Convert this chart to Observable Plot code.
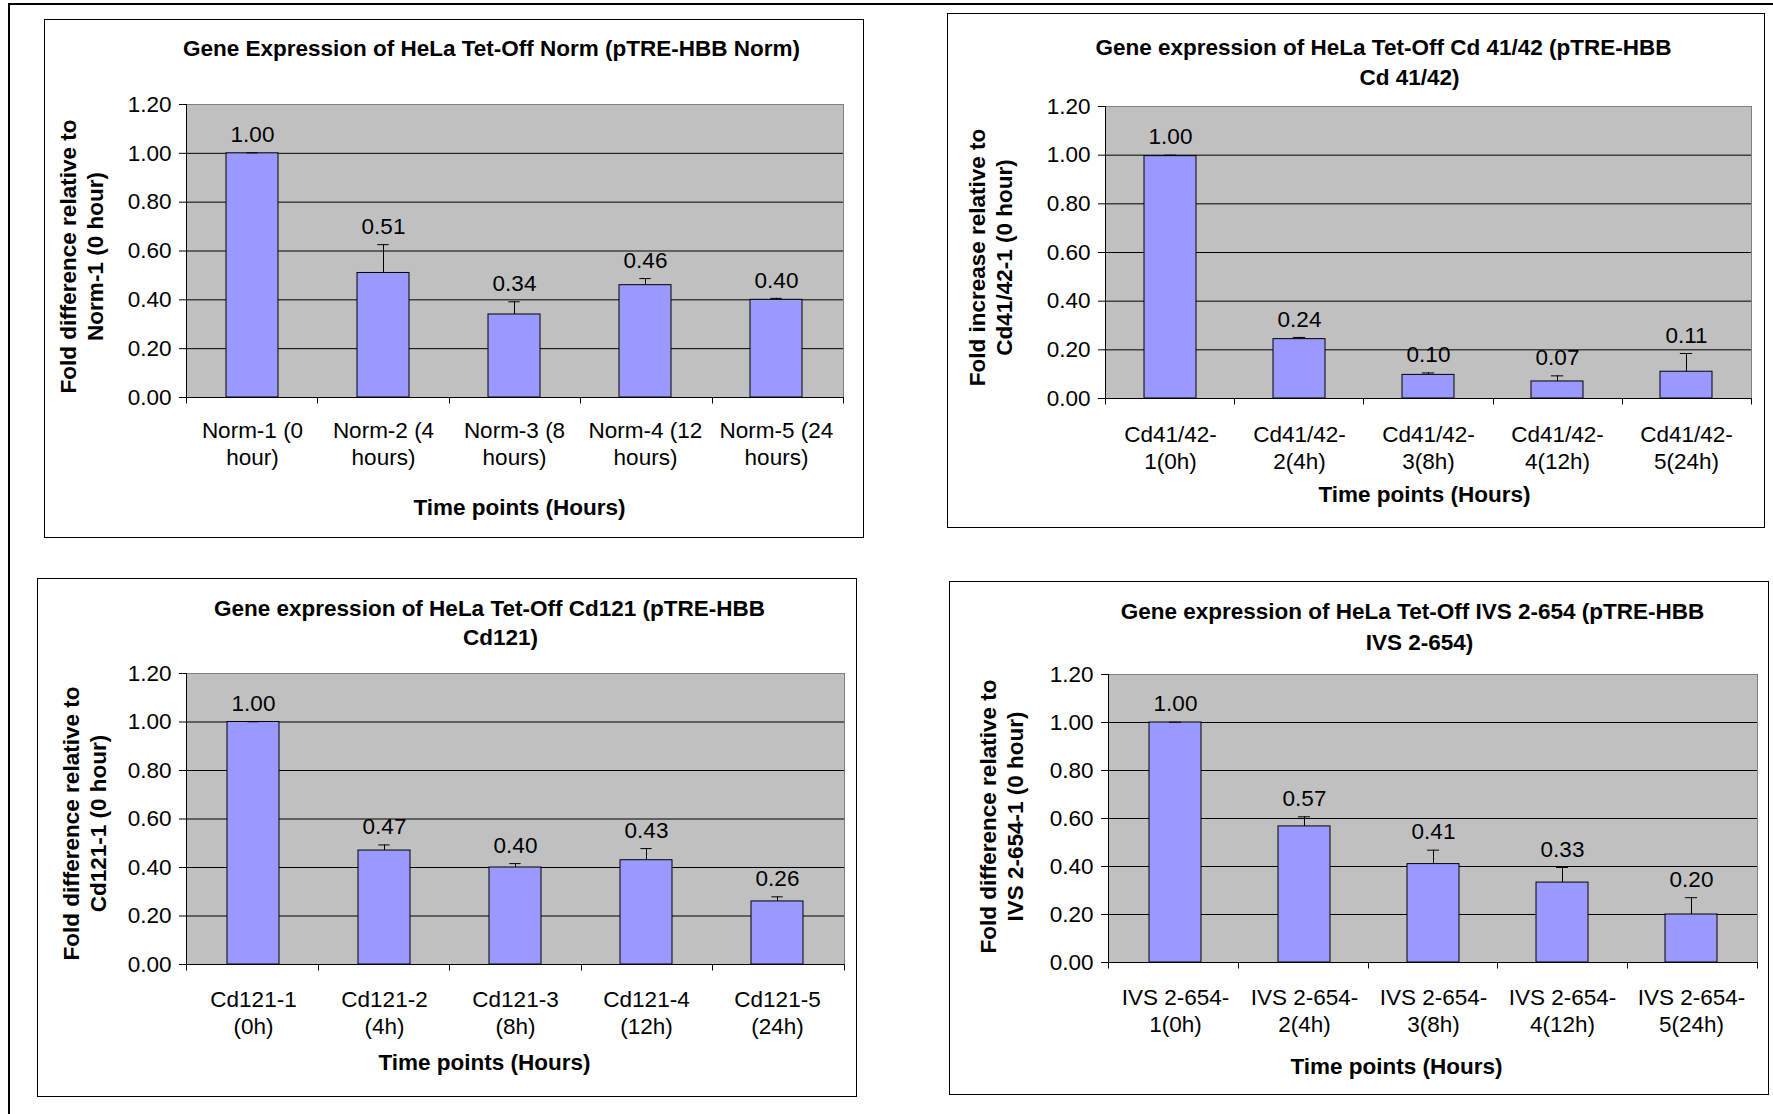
<!DOCTYPE html>
<html><head><meta charset="utf-8">
<script src="https://cdn.jsdelivr.net/npm/d3@7"></script>
<script src="https://cdn.jsdelivr.net/npm/@observablehq/plot@0.6"></script>
<style>
html,body{margin:0;padding:0;background:#fff;}
#page{position:relative;width:1773px;height:1114px;overflow:hidden;background:#fff;font-family:'Liberation Sans',Arial,sans-serif;}
.panel-svg{position:absolute;}
.box{position:absolute;border:1.5px solid #000;box-sizing:border-box;pointer-events:none;}
.rule{position:absolute;background:#000;}
</style></head><body><div id="page"></div>
<script>
// ---------- DATA ----------
const yTicks = [0, 0.2, 0.4, 0.6, 0.8, 1.0, 1.2];
const gridTicks = [0.2, 0.4, 0.6, 0.8, 1.0];
const xTitleText = "Time points (Hours)";

const normTitle = ["Gene Expression of HeLa Tet-Off Norm (pTRE-HBB Norm)"];
const normYTitle = "Fold difference relative to\nNorm-1 (0 hour)";
const normCats = ["Norm-1", "Norm-2", "Norm-3", "Norm-4", "Norm-5"];
const normLabels = ["Norm-1 (0\nhour)", "Norm-2 (4\nhours)", "Norm-3 (8\nhours)", "Norm-4 (12\nhours)", "Norm-5 (24\nhours)"];
const normValues = [1.00, 0.51, 0.34, 0.46, 0.40];
const normErrors = [0.002, 0.116, 0.052, 0.027, 0.006];

const cd4142Title = ["Gene expression of HeLa Tet-Off Cd 41/42 (pTRE-HBB", "Cd 41/42)"];
const cd4142YTitle = "Fold increase relative to\nCd41/42-1 (0 hour)";
const cd4142Cats = ["Cd41/42-1", "Cd41/42-2", "Cd41/42-3", "Cd41/42-4", "Cd41/42-5"];
const cd4142Labels = ["Cd41/42-\n1(0h)", "Cd41/42-\n2(4h)", "Cd41/42-\n3(8h)", "Cd41/42-\n4(12h)", "Cd41/42-\n5(24h)"];
const cd4142Values = [0.996, 0.244, 0.097, 0.070, 0.110];
const cd4142Errors = [0.004, 0.007, 0.008, 0.023, 0.075];

const cd121Title = ["Gene expression of HeLa Tet-Off Cd121 (pTRE-HBB", "Cd121)"];
const cd121YTitle = "Fold difference relative to\nCd121-1 (0 hour)";
const cd121Cats = ["Cd121-1", "Cd121-2", "Cd121-3", "Cd121-4", "Cd121-5"];
const cd121Labels = ["Cd121-1\n(0h)", "Cd121-2\n(4h)", "Cd121-3\n(8h)", "Cd121-4\n(12h)", "Cd121-5\n(24h)"];
const cd121Values = [1.00, 0.47, 0.40, 0.43, 0.26];
const cd121Errors = [0.001, 0.023, 0.016, 0.048, 0.019];

const ivsTitle = ["Gene expression of HeLa Tet-Off IVS 2-654 (pTRE-HBB", "IVS 2-654)"];
const ivsYTitle = "Fold difference relative to\nIVS 2-654-1 (0 hour)";
const ivsCats = ["IVS 2-654-1", "IVS 2-654-2", "IVS 2-654-3", "IVS 2-654-4", "IVS 2-654-5"];
const ivsLabels = ["IVS 2-654-\n1(0h)", "IVS 2-654-\n2(4h)", "IVS 2-654-\n3(8h)", "IVS 2-654-\n4(12h)", "IVS 2-654-\n5(24h)"];
const ivsValues = [1.00, 0.567, 0.41, 0.333, 0.20];
const ivsErrors = [0.001, 0.040, 0.058, 0.063, 0.070];

// ---------- LAYOUT (page pixels) ----------
const layouts = [
  {box:{l:44,t:19,r:864,b:538}, plot:{l:186,t:104,r:843,b:397},
   title:[{cx:491,cy:48}], yTitle:{cx:80,cy:256}, xTitle:{cx:519,cy:507}, catDy:45.5},
  {box:{l:947,t:13,r:1765,b:528}, plot:{l:1105,t:106,r:1751,b:398},
   title:[{cx:1383,cy:47},{cx:1409,cy:77}], yTitle:{cx:989,cy:257}, xTitle:{cx:1424,cy:494}, catDy:48},
  {box:{l:37,t:578,r:857,b:1097}, plot:{l:186,t:673,r:844,b:964},
   title:[{cx:489,cy:608},{cx:500,cy:637}], yTitle:{cx:83,cy:823}, xTitle:{cx:484,cy:1062}, catDy:47},
  {box:{l:949,t:581,r:1769,b:1095}, plot:{l:1108,t:674,r:1757,b:962},
   title:[{cx:1412,cy:611},{cx:1419,cy:642}], yTitle:{cx:1000,cy:816}, xTitle:{cx:1396,cy:1066}, catDy:47}
];

const panels = [
  {title:normTitle, yTitle:normYTitle, cats:normCats, labels:normLabels, values:normValues, errors:normErrors},
  {title:cd4142Title, yTitle:cd4142YTitle, cats:cd4142Cats, labels:cd4142Labels, values:cd4142Values, errors:cd4142Errors},
  {title:cd121Title, yTitle:cd121YTitle, cats:cd121Cats, labels:cd121Labels, values:cd121Values, errors:cd121Errors},
  {title:ivsTitle, yTitle:ivsYTitle, cats:ivsCats, labels:ivsLabels, values:ivsValues, errors:ivsErrors}
];

const fmt = d3.format(".2f");
const FONT = "'Liberation Sans', Arial, sans-serif";

// Excel-style axis lines and category boundary ticks
function excelAxes(n) {
  return (index, scales, values, dims) => {
    const {width, height, marginLeft: ml, marginTop: mt, marginRight: mr, marginBottom: mb} = dims;
    const x0 = ml, x1 = width - mr, y0 = mt, y1 = height - mb;
    const px = v => Math.round(v) + 0.5;
    const g = d3.create("svg:g").attr("stroke", "#000").attr("stroke-width", 1).attr("fill", "none");
    g.append("line").attr("x1", px(x0)).attr("x2", px(x0)).attr("y1", y0).attr("y2", px(y1));
    g.append("line").attr("x1", px(x0)).attr("x2", px(x1)).attr("y1", px(y1)).attr("y2", px(y1));
    for (let i = 0; i <= n; i++) {
      const x = px(x0 + (x1 - x0) * i / n);
      g.append("line").attr("x1", x).attr("x2", x).attr("y1", px(y1)).attr("y2", px(y1) + 6);
    }
    return g.node();
  };
}

const page = document.getElementById("page");

function addDiv(cls, style) {
  const d = document.createElement("div");
  d.className = cls;
  Object.assign(d.style, style);
  page.appendChild(d);
}

// outer figure frame
addDiv("rule", {left:"9px", top:"3px", width:"1764px", height:"2px"});
addDiv("rule", {left:"8px", top:"3px", width:"1.5px", height:"1111px"});

panels.forEach((p, k) => {
  const L = layouts[k];
  const W = L.box.r - L.box.l, H = L.box.b - L.box.t;
  const ml = L.plot.l - L.box.l, mt = L.plot.t - L.box.t;
  const mr = L.box.r - L.plot.r, mb = L.box.b - L.plot.b;
  const pw = L.plot.r - L.plot.l;
  const bw = 0.4 * pw / p.cats.length;
  const capInset = (bw - 12) / 2;
  const rows = p.cats.map((c, i) => ({cat: c, value: p.values[i], err: p.errors[i]}));
  const rel = (c) => ({dx: c.cx - L.plot.l, dy: c.cy - L.plot.t});

  const titleMarks = p.title.map((line, i) => Plot.text([line], {
    text: d => d, frameAnchor: "top-left", ...rel(L.title[i]),
    textAnchor: "middle", lineAnchor: "middle", fontWeight: "bold", fill: "#000"
  }));

  const svg = Plot.plot({
    width: W, height: H,
    marginLeft: ml, marginTop: mt, marginRight: mr, marginBottom: mb,
    style: {fontFamily: FONT, fontSize: "22.5px", color: "#000", background: "transparent", overflow: "visible"},
    x: {domain: p.cats, paddingInner: 0.6, paddingOuter: 0.3, axis: null, label: null},
    y: {domain: [0, 1.2], axis: null, label: null},
    marks: [
      Plot.frame({fill: "#C0C0C0", stroke: "#808080"}),
      Plot.gridY(gridTicks, {stroke: "#000", strokeOpacity: 1, strokeWidth: 1}),
      Plot.barY(rows, {x: "cat", y: "value", fill: "#9999FF", stroke: "#000", strokeWidth: 1}),
      Plot.ruleX(rows, {x: "cat", y1: "value", y2: d => d.value + d.err, stroke: "#000", strokeWidth: 1}),
      Plot.tickY(rows, {x: "cat", y: d => d.value + d.err, stroke: "#000", strokeWidth: 1, insetLeft: capInset, insetRight: capInset}),
      Plot.text(rows, {x: "cat", y: d => d.value + d.err, text: d => fmt(d.value), dy: -18, lineAnchor: "middle", fill: "#000"}),
      excelAxes(p.cats.length),
      Plot.axisY({ticks: yTicks, tickFormat: fmt, tickSize: 7, tickPadding: 8, label: null, fill: "#000", stroke: "#000"}),
      Plot.text(p.cats, {x: d => d, text: (d, i) => p.labels[i], frameAnchor: "bottom", dy: L.catDy,
        lineAnchor: "middle", textAnchor: "middle", lineHeight: 1.2, fill: "#000"}),
      Plot.text([p.yTitle], {text: d => d, frameAnchor: "top-left", ...rel(L.yTitle), rotate: -90,
        textAnchor: "middle", lineAnchor: "middle", lineHeight: 1.2, fontWeight: "bold", fill: "#000"}),
      Plot.text([xTitleText], {text: d => d, frameAnchor: "top-left", ...rel(L.xTitle),
        textAnchor: "middle", lineAnchor: "middle", fontWeight: "bold", fill: "#000"}),
      ...titleMarks
    ]
  });
  svg.classList.add("panel-svg");
  svg.style.left = L.box.l + "px";
  svg.style.top = L.box.t + "px";
  svg.style.maxWidth = "none";
  page.appendChild(svg);
  addDiv("box", {left: L.box.l + "px", top: L.box.t + "px", width: W + "px", height: H + "px"});
});
</script>
</body></html>
